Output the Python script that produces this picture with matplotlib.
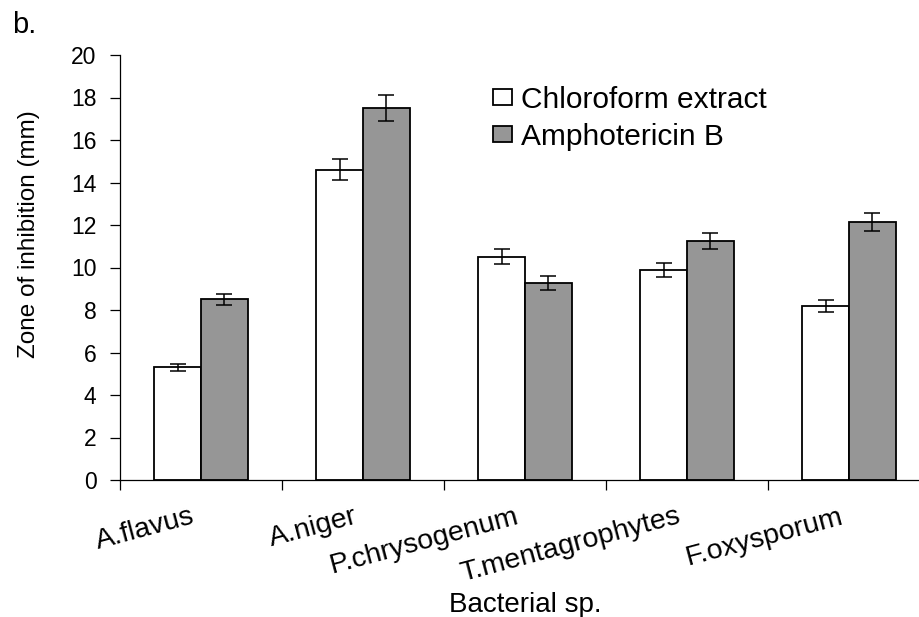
import matplotlib
matplotlib.use("Agg")
import matplotlib.pyplot as plt
import matplotlib.transforms as mtransforms
import numpy as np

plt.rcParams['font.family'] = ['Liberation Sans', 'DejaVu Sans']

# data
species = ['A.flavus', 'A.niger', 'P.chrysogenum', 'T.mentagrophytes', 'F.oxysporum']
chloroform = [5.3, 14.6, 10.5, 9.9, 8.2]
chloroform_err = [0.15, 0.5, 0.35, 0.33, 0.28]
amphotericin = [8.5, 17.5, 9.25, 11.25, 12.15]
amphotericin_err = [0.27, 0.6, 0.33, 0.38, 0.42]
yticks = [0, 2, 4, 6, 8, 10, 12, 14, 16, 18, 20]

W, H = 919, 617
fig = plt.figure(figsize=(W / 100, H / 100), dpi=100)
ax = fig.add_axes([120 / W, 1 - 480 / H, 810 / W, 425 / H])

x = np.arange(len(species))
bw = 0.29
err_kw = dict(ecolor='black', elinewidth=1.1, capsize=5.5, capthick=1.1)

ax.bar(x - bw / 2, chloroform, bw, yerr=chloroform_err, color='white',
       edgecolor='black', linewidth=1.3, error_kw=err_kw, label='Chloroform extract', zorder=2)
ax.bar(x + bw / 2, amphotericin, bw, yerr=amphotericin_err, color='#969696',
       edgecolor='black', linewidth=1.3, error_kw=err_kw, label='Amphotericin B', zorder=2)

ax.set_xlim(-0.5, len(species) - 0.5)
ax.set_ylim(0, 20)
ax.set_yticks(yticks)
ax.tick_params(axis='y', labelsize=16.5, length=7, width=0.9, pad=10)

# category boundary ticks, names at the centres
ax.set_xticks(np.arange(len(species) + 1) - 0.5)
ax.set_xticklabels([])
ax.tick_params(axis='x', which='major', length=7, width=0.9)
ax.set_xticks(x, minor=True)
ax.set_xticklabels(species, minor=True, rotation=15, ha='right', va='top',
                   rotation_mode='anchor', fontsize=20.5)
ax.tick_params(axis='x', which='minor', length=0, pad=17)
shift = mtransforms.ScaledTranslation(-0.10, 0, fig.dpi_scale_trans)
for lab in ax.get_xticklabels(minor=True):
    lab.set_transform(lab.get_transform() + shift)

for s in ['top', 'right']:
    ax.spines[s].set_visible(False)
for s in ['left', 'bottom']:
    ax.spines[s].set_linewidth(0.9)

ax.set_ylabel('Zone of inhibition (mm)', fontsize=17.5)
ax.yaxis.set_label_coords(-0.099, 0.578)
ax.set_xlabel('Bacterial sp.', fontsize=20)
ax.xaxis.set_label_coords(0.5, -0.264)

fig.legend(loc='upper left', bbox_to_anchor=(493 / W, 1 - 86 / H), frameon=False,
           fontsize=21.5, borderpad=0, borderaxespad=0, handlelength=0.62,
           handleheight=0.45, handletextpad=0.33, labelspacing=0.29)

fig.text(12 / W, 1 - 11 / H, 'b.', fontsize=21, va='top', ha='left')

fig.savefig('out.png', dpi=100)
